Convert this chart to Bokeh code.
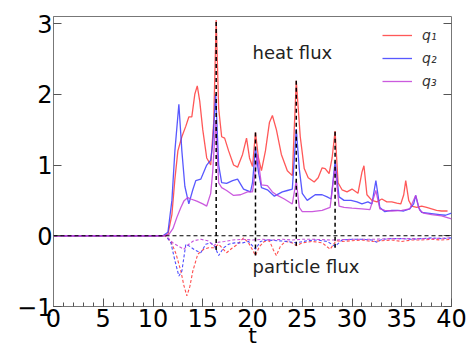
from bokeh.plotting import figure
from bokeh.models import (Range1d, LinearAxis, FixedTicker, Span, Label, Legend, LegendItem)
from bokeh.embed import file_html
from bokeh.resources import INLINE

# ---- data ----
t_q1 = [0, 11.0, 11.5, 11.9, 12.2, 12.5, 12.9, 13.3, 13.6, 13.9,
        14.2, 14.45, 14.7, 15.0, 15.4, 15.8, 16.1, 16.35, 16.6, 16.9,
        17.2, 17.6, 18.1, 18.5, 19.0, 19.4, 19.7, 20.0, 20.3, 20.6,
        20.9, 21.3, 21.7, 22.0, 22.4, 22.9, 23.5, 24.0, 24.4, 24.8,
        25.2, 25.6, 26.2, 26.6, 27.0, 27.3, 27.7, 28.0, 28.3, 28.6,
        29.0, 29.5, 30.0, 30.6, 31.0, 31.2, 31.5, 32.0, 32.5, 33.0,
        33.5, 34.0, 34.5, 34.9, 35.2, 35.4, 35.7, 36.0, 36.5, 37.0,
        37.5, 38.0, 38.5, 39.0, 39.6]
q1 = [0, 0, 0.02, 0.3, 0.8, 1.2, 1.4, 1.55, 1.68, 1.68,
      2.0, 2.12, 1.9, 1.5, 1.1, 1.0, 1.6, 3.05, 1.8, 1.4,
      1.38, 1.2, 1.0, 0.97, 1.15, 1.38, 1.1, 0.98, 1.46, 1.1,
      0.92, 1.2, 1.6, 1.70, 1.5, 1.15, 0.92, 0.85, 2.19, 1.4,
      0.95, 0.82, 0.76, 0.82, 0.96, 0.95, 0.88, 1.1, 1.48, 0.75,
      0.65, 0.62, 0.66, 0.60, 0.90, 0.99, 0.58, 0.50, 0.48, 0.52,
      0.48, 0.48, 0.46, 0.45, 0.58, 0.78, 0.50, 0.42, 0.40, 0.42,
      0.40, 0.38, 0.36, 0.35, 0.35]

t_q2 = [0, 11, 11.5, 11.9, 12.2, 12.6, 12.9, 13.2, 13.6, 14.0,
        14.3, 14.8, 15.4, 15.8, 16.0, 16.3, 16.6, 16.9, 17.4, 18.0,
        18.5, 19.1, 19.8, 20.0, 20.3, 20.6, 20.9, 21.5, 22.2, 23.0,
        23.5, 24.0, 24.4, 24.7, 25.0, 25.5, 26.3, 27.0, 27.5, 27.9,
        28.3, 28.7, 29.2, 29.9, 30.5, 31.0, 31.6, 32.0, 32.4, 32.8,
        33.3, 34.0, 34.6, 35.2, 35.8, 36.2, 36.4, 36.7, 37.0, 37.6,
        38.2, 38.8, 39.4, 40.0]
q2 = [0, 0, 0.05, 0.5, 1.2, 1.86, 1.2, 0.7, 0.45, 0.65,
      0.78, 0.8, 1.0, 1.07, 1.3, 2.0, 1.0, 0.75, 0.74, 0.78,
      0.8, 0.66, 0.62, 0.75, 1.25, 0.9, 0.68, 0.65, 0.56, 0.62,
      0.64, 0.66, 1.51, 0.95, 0.6, 0.5, 0.58, 0.58, 0.55, 0.52,
      1.05, 0.55, 0.5, 0.5, 0.48, 0.45, 0.48, 0.45, 0.78, 0.4,
      0.34, 0.36, 0.36, 0.35, 0.38, 0.45, 0.57, 0.40, 0.33, 0.32,
      0.31, 0.3, 0.29, 0.32]

t_q3 = [0, 11, 11.6, 12, 12.4, 12.8, 13.1, 13.5, 13.8, 14.4,
        15, 15.4, 15.8, 16, 16.3, 16.6, 16.9, 17.4, 18.1, 18.8,
        19.5, 20, 20.5, 20.9, 21.5, 22, 22.5, 23.2, 24, 24.4,
        24.7, 25, 26, 27, 27.8, 28.3, 28.7, 29.2, 30, 31,
        31.8, 32.4, 32.8, 33.3, 34, 35, 35.8, 36.4, 36.8, 37.2,
        38, 39, 40]
q3 = [0, 0, 0.02, 0.1, 0.26, 0.4, 0.49, 0.54, 0.52, 0.49,
      0.45, 0.42, 0.6, 0.9, 1.63, 0.75, 0.68, 0.64, 0.57, 0.58,
      0.62, 0.62, 1.15, 0.72, 0.71, 0.62, 0.57, 0.52, 0.45, 0.78,
      0.4, 0.34, 0.34, 0.36, 0.4, 0.98, 0.42, 0.4, 0.39, 0.38,
      0.37, 0.64, 0.38, 0.36, 0.35, 0.36, 0.38, 0.57, 0.36, 0.32,
      0.3, 0.28, 0.24]

t_g1 = [0, 11.2, 11.8, 12.3, 12.8, 13.1, 13.4, 13.7, 14.0, 14.5,
        15.1, 15.6, 16.1, 16.6, 17.0, 17.4, 17.9, 18.5, 19.1, 19.6,
        20.0, 20.3, 20.7, 21.2, 21.7, 22.1, 22.4, 22.8, 23.3, 24.0,
        24.4, 25, 26, 27, 27.8, 28.4, 29, 30, 31, 32,
        33, 34, 35, 36, 37, 38, 39, 40]
g1 = [0, 0, -0.08, -0.25, -0.5, -0.7, -0.85, -0.72, -0.5, -0.26,
      -0.19, -0.17, -0.17, -0.12, -0.18, -0.24, -0.18, -0.12, -0.03, -0.1,
      -0.2, -0.28, -0.15, -0.08, -0.07, -0.2, -0.28, -0.15, -0.08, -0.1,
      -0.14, -0.1, -0.08, -0.1, -0.19, -0.07, -0.08, -0.07, -0.06, -0.08,
      -0.07, -0.06, -0.08, -0.06, -0.06, -0.05, -0.06, -0.05]

t_g2 = [0, 11.3, 11.8, 12.2, 12.6, 12.9, 13.3, 13.7, 14.2, 14.8,
        15.3, 15.8, 16.2, 16.6, 17.1, 17.6, 18.2, 19, 19.6, 20.3,
        20.8, 21.5, 22.5, 23.5, 24.4, 25.5, 26.5, 27.5, 28.3, 29,
        30, 31, 32, 32.5, 33, 34, 35, 36, 37, 38,
        39, 40]
g2 = [0, 0, -0.1, -0.35, -0.57, -0.5, -0.12, -0.15, -0.2, -0.24,
      -0.12, -0.1, -0.15, -0.28, -0.17, -0.12, -0.1, -0.1, -0.08, -0.19,
      -0.08, -0.06, -0.07, -0.08, -0.1, -0.07, -0.06, -0.08, -0.15, -0.06,
      -0.05, -0.05, -0.06, -0.09, -0.05, -0.04, -0.04, -0.05, -0.04, -0.03,
      -0.04, -0.03]

t_g3 = [0, 11.3, 12, 12.6, 13.1, 13.6, 14.1, 14.8, 15.5, 16.1,
        16.6, 17.2, 18, 19, 20, 21, 22, 23, 24, 25,
        26, 28, 30, 32, 34, 36, 38, 40]
g3 = [0, 0, -0.1, -0.15, -0.19, -0.12, -0.07, -0.05, -0.07, -0.14,
      -0.09, -0.08, -0.06, -0.05, -0.06, -0.05, -0.06, -0.05, -0.06, -0.05,
      -0.05, -0.06, -0.05, -0.05, -0.04, -0.04, -0.04, -0.03]

peak_t = [16.35, 20.3, 24.4, 28.3]
peak_top = [3.05, 1.46, 2.19, 1.48]
peak_bottom = [-0.2, -0.28, -0.14, -0.17]

x_ticks = [0, 5, 10, 15, 20, 25, 30, 35, 40]
y_ticks = [-1, 0, 1, 2, 3]
legend_labels = ["q\u2081", "q\u2082", "q\u2083"]

RED = "#ff3b3b"
BLUE = "#3b3bff"
MAG = "#c23ed8"
FONT = "DejaVu Sans"

p = figure(width=474, height=352, output_backend="svg", toolbar_location=None,
           x_range=Range1d(0, 40), y_range=Range1d(-1, 3.1),
           min_border_left=53, min_border_right=23, min_border_top=16,
           min_border_bottom=46)
p.outline_line_color = "#777777"
p.outline_line_width = 1
p.grid.visible = False
p.background_fill_color = "white"

# axes styling
xa = p.xaxis[0]
xa.ticker = FixedTicker(ticks=x_ticks, minor_ticks=list(range(0, 41)))
ya = p.yaxis[0]
ya.ticker = FixedTicker(ticks=y_ticks, minor_ticks=[])
ya.major_label_overrides = {-1: "\u22121"}
for ax in (xa, ya):
    ax.axis_line_color = "#777777"
    ax.major_tick_in = 8
    ax.major_tick_out = 0
    ax.minor_tick_in = 4
    ax.minor_tick_out = 0
    ax.major_tick_line_color = "#555555"
    ax.minor_tick_line_color = "#555555"
    ax.major_label_text_font = FONT
    ax.major_label_text_font_size = "24px"
    ax.major_label_text_color = "black"
xa.major_label_standoff = 2
ya.major_label_standoff = 1
xa.axis_label = "t"
xa.axis_label_text_font = FONT
xa.axis_label_text_font_size = "22px"
xa.axis_label_text_font_style = "normal"
xa.axis_label_text_color = "black"
xa.axis_label_standoff = -7

ra = LinearAxis(ticker=FixedTicker(ticks=y_ticks, minor_ticks=[]))
ra.major_tick_in = 8
ra.major_tick_out = 0
ra.major_tick_line_color = "#555555"
ra.axis_line_color = None
ra.major_label_text_color = None
ra.major_label_text_font_size = "1px"
ra.major_label_standoff = 0
p.add_layout(ra, "right")

# zero line
p.add_layout(Span(location=0, dimension="width", line_color="black",
                  line_dash="4 3", line_width=1.2))

# particle flux (dashed)
p.line(t_g1, g1, line_color=RED, line_dash="3 2", line_width=1.1, line_alpha=0.9)
p.line(t_g2, g2, line_color=BLUE, line_dash="3 2", line_width=1.1, line_alpha=0.9)
p.line(t_g3, g3, line_color=MAG, line_dash="3 2", line_width=1.1, line_alpha=0.9)

# heat flux
r1 = p.line(t_q1, q1, line_color=RED, line_width=1.3, line_alpha=0.85)
r2 = p.line(t_q2, q2, line_color=BLUE, line_width=1.3, line_alpha=0.85)
r3 = p.line(t_q3, q3, line_color=MAG, line_width=1.3, line_alpha=0.85)

# peak markers
p.segment(x0=peak_t, y0=peak_bottom, x1=peak_t, y1=peak_top,
          line_color="black", line_dash="4 3", line_width=1.5)

# annotations
p.add_layout(Label(x=20, y=2.59, text="heat flux", text_font=FONT,
                   text_font_size="18px", text_color="#222222",
                   text_baseline="middle"))
p.add_layout(Label(x=20, y=-0.43, text="particle flux", text_font=FONT,
                   text_font_size="18px", text_color="#222222",
                   text_baseline="middle"))

legend = Legend(items=[LegendItem(label=legend_labels[0], renderers=[r1]),
                       LegendItem(label=legend_labels[1], renderers=[r2]),
                       LegendItem(label=legend_labels[2], renderers=[r3])],
                location=(329, 215), padding=0, margin=0, spacing=3,
                glyph_width=30, glyph_height=20, label_height=20,
                label_standoff=10, border_line_color=None,
                background_fill_alpha=0,
                label_text_font=FONT, label_text_font_style="italic",
                label_text_font_size="14px", label_text_color="#333333")
p.add_layout(legend, "center")

open("out.html", "w").write(file_html(p, INLINE))
